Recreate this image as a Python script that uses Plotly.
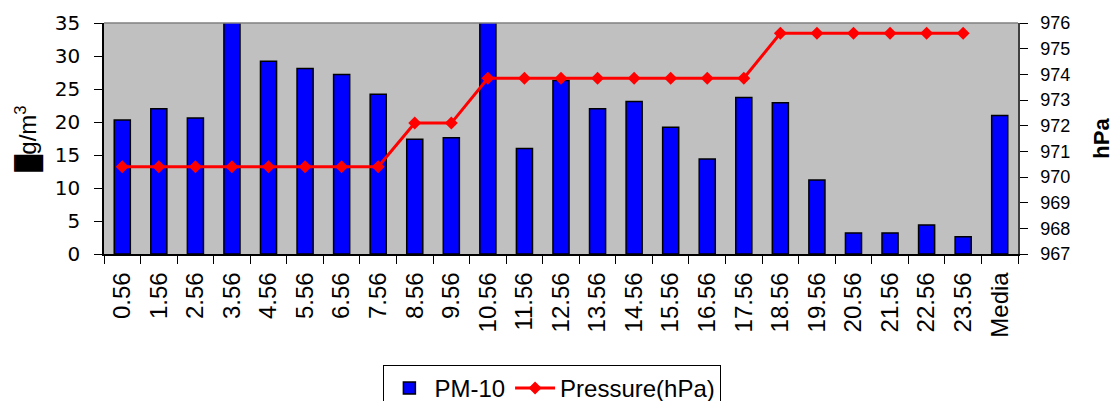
import plotly.graph_objects as go
from plotly.subplots import make_subplots

categories = ["0.56", "1.56", "2.56", "3.56", "4.56", "5.56", "6.56", "7.56", "8.56", "9.56",
              "10.56", "11.56", "12.56", "13.56", "14.56", "15.56", "16.56", "17.56", "18.56",
              "19.56", "20.56", "21.56", "22.56", "23.56", "Media"]
pm10 = [20.3, 22.0, 20.6, 38.0, 29.2, 28.1, 27.2, 24.2, 17.4, 17.6,
        38.0, 16.0, 26.3, 22.0, 23.1, 19.2, 14.4, 23.7, 22.9,
        11.2, 3.2, 3.2, 4.4, 2.6, 21.0]
pressure = [970.4, 970.4, 970.4, 970.4, 970.4, 970.4, 970.4, 970.4, 972.1, 972.1,
            973.85, 973.85, 973.85, 973.85, 973.85, 973.85, 973.85, 973.85, 975.6,
            975.6, 975.6, 975.6, 975.6, 975.6, None]

FONT = "Liberation Sans, Arial, sans-serif"

# the page body has an 8px margin, so the figure is drawn 8px lower and to the right
W, H = 1111, 393

fig = make_subplots(specs=[[{"secondary_y": True}]])
fig.add_trace(go.Bar(x=categories, y=pm10, name="PM-10",
                     marker=dict(color="#0000FF", line=dict(color="black", width=1.5))),
              secondary_y=False)
fig.add_trace(go.Scatter(x=categories, y=pressure, name="Pressure(hPa)", mode="lines+markers",
                         line=dict(color="#FF0000", width=3),
                         marker=dict(symbol="diamond", size=10, color="#FF0000")),
              secondary_y=True)

fig.update_layout(
    width=W, height=H,
    margin=dict(l=96, r=101, t=15, b=147, autoexpand=False),
    paper_bgcolor="white", plot_bgcolor="#C0C0C0",
    font=dict(family=FONT, size=20, color="black"),
    bargap=0.56,
    showlegend=True,
    legend=dict(orientation="h", x=0.49, xanchor="center", xref="container",
                y=0.0916, yanchor="top", yref="container",
                bordercolor="black", borderwidth=1, bgcolor="white",
                font=dict(size=24, family=FONT), itemwidth=40, tracegroupgap=0),
    annotations=[
        dict(text="█g/m<sup>3</sup>", xref="paper", yref="paper", x=-0.084, y=0.5,
             xanchor="center", yanchor="middle", textangle=-90, showarrow=False,
             font=dict(size=24, family=FONT)),
        dict(text="<b>hPa</b>", xref="paper", yref="paper", x=1.091, y=0.5,
             xanchor="center", yanchor="middle", textangle=-90, showarrow=False,
             font=dict(size=22, family=FONT)),
    ],
    shapes=[dict(type="line", xref="paper", yref="paper", x0=0, x1=1, y0=1, y1=1,
                 line=dict(color="#808080", width=1.5))],
)
fig.update_xaxes(type="category", range=[-0.5, 24.5], domain=[0, 1], tickangle=-90,
                 ticks="outside", ticklen=8, tickcolor="black", tickson="boundaries",
                 showline=True, linecolor="black", linewidth=1.5, showgrid=False,
                 tickfont=dict(size=24, family=FONT), ticklabelstandoff=7, automargin=False)
fig.update_yaxes(range=[0, 35], dtick=5, ticks="outside", ticklen=8, tickcolor="black",
                 showline=True, linecolor="black", linewidth=1.5, showgrid=False, zeroline=False,
                 tickfont=dict(size=20, family="DejaVu Sans"), ticklabelstandoff=10,
                 automargin=False, secondary_y=False)
fig.update_yaxes(range=[967, 976], dtick=1, ticks="outside", ticklen=8, tickcolor="black",
                 showline=True, linecolor="#404040", linewidth=1.5, showgrid=False, zeroline=False,
                 tickfont=dict(size=18, family=FONT), ticklabelstandoff=9,
                 automargin=False, secondary_y=True)

fig.write_html("out.html")
